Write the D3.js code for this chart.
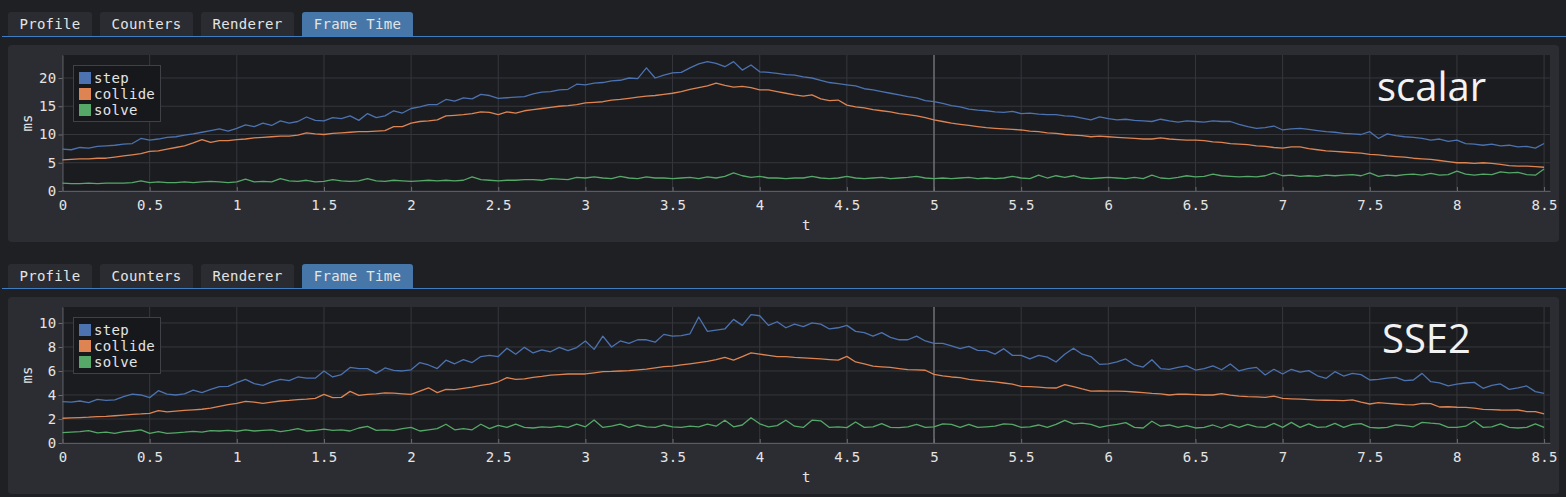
<!DOCTYPE html>
<html>
<head>
<meta charset="utf-8">
<script src="https://cdn.jsdelivr.net/npm/d3@7"></script>
<style>
  body { margin: 0; background: #1f2023; }
  svg { display: block; }
</style>
</head>
<body>
<svg id="chart" width="1566" height="497"></svg>
<script>
// ---- data ----
const tabs = ["Profile", "Counters", "Renderer", "Frame Time"];
const activeTab = "Frame Time";
const seriesNames = ["step", "collide", "solve"];
const panelLabels = ["scalar", "SSE2"];
const xTicks = [0, 0.5, 1, 1.5, 2, 2.5, 3, 3.5, 4, 4.5, 5, 5.5, 6, 6.5, 7, 7.5, 8, 8.5];
const yTicksScalar = [0, 5, 10, 15, 20];
const yTicksSSE2 = [0, 2, 4, 6, 8, 10];
const tStep = 0.05;   // sample spacing of the series below (t = 0 .. 8.5)
const tMax = 8.534;
const cursorT = 5;

const scalarStep = [
  7.4,7.3,7.7,7.6,7.9,8.0,8.1,8.3,8.4,9.3,
  9.0,9.2,9.5,9.6,9.9,10.1,10.4,10.7,11.0,10.6,
  11.1,11.7,11.4,12.0,11.6,12.4,12.0,12.3,13.1,12.5,
  12.4,13.0,12.8,13.3,12.5,13.7,13.0,13.3,14.2,13.8,
  14.6,14.9,15.3,15.3,16.2,15.9,16.5,16.3,17.1,16.9,
  16.4,16.5,16.6,16.7,17.2,17.5,17.6,17.9,18.0,18.9,
  18.8,19.1,19.2,19.5,19.6,20.0,19.9,21.8,20.0,20.5,
  20.9,21.0,21.8,22.5,22.9,22.6,22.0,22.9,21.4,22.3,
  21.1,21.0,20.8,20.6,20.5,20.2,20.0,19.6,19.2,19.0,
  18.8,18.6,18.1,17.9,17.6,17.3,17.0,16.7,16.5,16.0,
  15.8,15.5,15.1,14.9,14.5,14.3,14.2,14.0,13.9,14.1,
  13.7,13.8,13.6,13.5,13.5,13.3,13.2,12.9,12.6,13.1,
  12.8,12.6,12.7,12.5,12.4,12.3,12.7,12.4,12.2,12.4,
  12.3,12.2,12.4,12.3,12.3,11.8,11.4,11.1,11.2,11.5,
  10.8,11.0,11.1,10.9,10.7,10.5,10.4,10.2,10.1,10.0,
  10.5,9.3,10.1,9.8,9.6,9.5,9.3,9.0,9.2,8.8,
  9.0,8.4,8.3,8.1,8.3,8.0,8.1,7.8,7.9,7.6,
  8.4
];
const scalarCollide = [
  5.5,5.6,5.7,5.7,5.8,5.8,6.0,6.2,6.4,6.6,
  7.0,7.1,7.4,7.7,8.0,8.5,9.1,8.6,8.9,8.9,
  9.1,9.2,9.4,9.5,9.6,9.7,9.7,9.9,10.3,10.1,
  10.0,10.2,10.3,10.4,10.5,10.5,10.6,10.7,11.4,11.4,
  12.0,12.3,12.4,12.6,13.3,13.4,13.5,13.7,14.0,13.9,
  13.5,14.0,13.8,14.2,14.4,14.6,14.8,15.0,15.1,15.3,
  15.6,15.7,15.8,16.1,16.2,16.4,16.6,16.8,16.9,17.1,
  17.3,17.6,18.0,18.3,18.6,19.1,18.7,18.4,18.5,18.3,
  17.9,17.9,17.6,17.3,17.0,16.8,17.0,16.3,16.0,16.1,
  15.2,14.9,14.7,14.4,14.2,14.0,13.7,13.5,13.3,13.0,
  12.6,12.3,12.0,11.8,11.6,11.4,11.2,11.1,11.0,10.9,
  10.8,10.6,10.5,10.3,10.2,10.0,9.9,9.8,9.6,9.7,
  9.6,9.5,9.4,9.3,9.2,9.2,9.4,9.2,9.1,9.0,
  9.0,8.9,8.7,8.6,8.4,8.3,8.2,8.0,7.9,7.7,
  7.6,7.8,7.8,7.5,7.3,7.1,7.0,6.9,6.8,6.7,
  6.5,6.4,6.2,6.1,6.0,5.8,5.7,5.6,5.4,5.2,
  5.0,5.0,4.9,5.0,4.9,4.7,4.5,4.4,4.4,4.3,
  4.2
];
const scalarSolve = [
  1.4,1.3,1.3,1.4,1.3,1.4,1.4,1.4,1.5,1.8,
  1.5,1.6,1.5,1.5,1.6,1.5,1.6,1.7,1.6,1.5,
  1.6,2.1,1.6,1.7,1.6,2.2,1.8,1.7,1.9,1.6,
  1.7,2.0,1.8,1.7,1.8,2.2,1.8,1.7,1.9,1.8,
  1.7,1.8,1.9,1.8,1.9,1.8,1.9,2.5,2.0,1.9,
  1.8,1.9,1.9,2.0,2.0,1.9,2.2,2.1,2.0,2.4,
  2.3,2.5,2.3,2.2,2.6,2.3,2.2,2.5,2.3,2.3,
  2.2,2.3,2.4,2.2,2.5,2.3,2.6,3.2,2.7,2.4,
  2.6,2.3,2.3,2.2,2.3,2.3,2.6,2.3,2.2,2.3,
  2.6,2.3,2.2,2.3,2.4,2.2,2.3,2.4,2.6,2.3,
  2.2,2.3,2.2,2.3,2.4,2.2,2.3,2.2,2.3,2.6,
  2.3,2.2,2.8,2.3,2.7,2.4,2.7,2.3,2.2,2.3,
  2.4,2.3,2.2,2.4,2.2,2.8,2.3,2.2,2.4,2.7,
  2.5,2.6,3.0,2.7,2.6,2.5,2.6,2.5,2.7,3.2,
  2.7,2.8,2.6,2.7,2.6,2.8,2.7,2.8,2.9,2.7,
  3.2,2.6,2.8,2.7,2.9,3.0,2.8,3.1,2.8,2.9,
  3.5,3.0,2.8,3.0,2.9,3.4,3.2,3.3,2.9,2.8,
  3.9
];

const sse2Step = [
  3.44,3.4,3.5,3.36,3.64,3.55,3.6,3.86,4.08,4.0,
  3.78,4.36,4.08,4.0,4.1,4.4,4.2,4.47,4.7,4.72,
  5.03,5.3,4.95,4.8,5.1,5.3,5.2,5.5,5.4,5.4,
  6.0,5.5,5.7,6.3,6.2,6.2,5.8,6.25,6.05,6.0,
  6.1,6.7,6.5,6.2,6.9,6.6,6.95,6.7,7.2,7.3,
  7.2,7.9,7.4,7.97,7.5,7.75,7.6,7.97,7.7,7.95,
  8.5,7.8,8.9,8.0,8.5,8.3,8.6,8.6,8.4,9.05,
  8.9,8.95,9.1,10.5,9.3,9.4,9.5,10.3,9.8,10.7,
  10.6,9.8,10.1,9.6,9.9,9.7,10.0,9.9,9.5,9.6,
  9.8,9.3,9.2,8.9,9.2,8.8,8.6,8.6,8.9,8.5,
  8.3,8.3,8.1,7.86,8.05,7.72,7.7,7.4,7.86,7.3,
  7.3,7.0,7.3,7.15,6.75,7.4,7.9,7.4,7.2,6.55,
  6.6,6.75,7.0,6.5,6.33,6.94,6.2,6.14,6.3,6.42,
  6.08,6.2,6.42,6.1,6.58,6.0,6.2,6.3,5.67,6.14,
  5.75,6.14,5.9,6.03,5.6,5.39,5.94,5.58,5.8,5.7,
  5.25,5.3,5.4,5.47,5.19,5.25,5.8,5.11,5.0,4.75,
  4.9,5.0,5.05,4.56,4.8,4.92,4.47,4.6,4.75,4.28,
  4.14
];
const sse2Collide = [
  2.06,2.1,2.12,2.15,2.2,2.22,2.27,2.33,2.39,2.42,
  2.47,2.69,2.6,2.66,2.72,2.76,2.81,2.9,3.06,3.2,
  3.3,3.47,3.4,3.3,3.4,3.5,3.55,3.62,3.66,3.72,
  4.05,3.78,3.8,4.3,3.97,4.05,4.1,4.17,4.15,4.1,
  4.05,4.33,4.6,4.2,4.47,4.44,4.55,4.65,4.8,4.9,
  5.1,5.44,5.3,5.35,5.47,5.55,5.65,5.7,5.75,5.76,
  5.75,5.85,5.94,5.96,6.0,6.03,6.1,6.15,6.25,6.36,
  6.4,6.5,6.6,6.7,6.8,6.95,7.14,6.9,7.2,7.5,
  7.4,7.3,7.2,7.2,7.14,7.1,7.05,7.0,6.95,6.9,
  7.22,6.75,6.6,6.4,6.35,6.3,6.2,6.11,6.1,6.06,
  5.72,5.6,5.5,5.44,5.3,5.22,5.15,5.1,5.0,4.9,
  4.72,4.7,4.65,4.6,4.58,4.86,4.7,4.5,4.33,4.35,
  4.32,4.33,4.3,4.25,4.2,4.14,4.1,4.0,4.08,4.06,
  4.03,4.0,4.0,4.12,3.98,3.9,3.86,3.84,3.8,3.9,
  3.72,3.68,3.65,3.62,3.58,3.56,3.55,3.53,3.6,3.4,
  3.25,3.36,3.3,3.25,3.2,3.17,3.3,3.28,3.0,3.02,
  2.98,2.97,2.9,2.8,2.78,2.75,2.74,2.75,2.62,2.61,
  2.42
];
const sse2Solve = [
  0.86,0.9,0.94,1.03,0.85,0.9,0.8,0.95,1.0,1.1,
  0.8,0.95,0.8,0.85,0.9,0.97,0.9,1.03,1.0,1.05,
  0.98,1.1,1.0,1.05,1.1,0.95,1.05,1.2,1.0,1.05,
  1.15,1.05,1.1,1.0,1.25,1.39,1.05,1.1,1.05,1.2,
  1.3,1.0,1.1,1.2,1.56,1.1,1.2,1.1,1.56,1.2,
  1.47,1.3,1.58,1.3,1.25,1.35,1.3,1.4,1.3,1.58,
  1.35,1.92,1.3,1.4,1.58,1.3,1.5,1.35,1.3,1.5,
  1.35,1.3,1.4,1.35,1.58,1.4,1.9,1.35,1.5,2.1,
  1.6,1.35,1.45,1.9,1.4,1.3,1.9,1.85,1.3,1.35,
  1.28,1.75,1.3,1.35,1.61,1.3,1.28,1.35,1.55,1.3,
  1.35,1.6,1.55,1.3,1.55,1.3,1.35,1.4,1.6,1.55,
  1.3,1.35,1.5,1.3,1.55,1.89,1.6,1.65,1.55,1.3,
  1.45,1.55,1.7,1.3,1.25,1.81,1.4,1.5,1.3,1.45,
  1.25,1.3,1.5,1.25,1.55,1.3,1.55,1.35,1.3,1.64,
  1.3,1.72,1.3,1.6,1.3,1.35,1.64,1.3,1.55,1.62,
  1.3,1.25,1.3,1.5,1.45,1.35,1.72,1.65,1.6,1.3,
  1.3,1.4,1.83,1.3,1.35,1.6,1.3,1.25,1.3,1.6,
  1.3
];

// ---- layout ----
const W = 1566;
const colors = ["#4c72b0", "#dd8452", "#55a868"];
const mono = "'DejaVu Sans Mono', monospace";
const tabWidths = [84, 93, 93, 111];

const panels = [
  { top: 0,   yMax: 24.07, yTicks: yTicksScalar, series: [scalarStep, scalarCollide, scalarSolve], label: panelLabels[0], labelX: 1377 },
  { top: 252, yMax: 11.33, yTicks: yTicksSSE2,   series: [sse2Step, sse2Collide, sse2Solve],       label: panelLabels[1], labelX: 1382 }
];

const svg = d3.select("#chart");

const plotL = 62.5, plotR = 1550, plotT = 55, plotB = 191;

const x = d3.scaleLinear().domain([0, tMax]).range([plotL, plotR]);

function topRounded(x0, y0, w, h, r) {
  return `M${x0},${y0 + h}V${y0 + r}Q${x0},${y0} ${x0 + r},${y0}H${x0 + w - r}Q${x0 + w},${y0} ${x0 + w},${y0 + r}V${y0 + h}Z`;
}

panels.forEach(p => {
  const g = svg.append("g").attr("transform", `translate(0,${p.top})`);

  // tab strip
  let tx = 8;
  tabs.forEach((name, i) => {
    const w = tabWidths[i];
    g.append("path")
      .attr("d", topRounded(tx, 12, w, 24, 3))
      .attr("fill", name === activeTab ? "#4677a8" : "#2a2c31");
    g.append("text")
      .attr("x", tx + w / 2)
      .attr("y", 29)
      .attr("text-anchor", "middle")
      .attr("font-family", mono)
      .attr("font-size", 14)
      .attr("letter-spacing", 0.3)
      .attr("fill", "#e4e4e4")
      .text(name);
    tx += w + 8;
  });
  g.append("line")
    .attr("x1", 2).attr("x2", W)
    .attr("y1", 36.5).attr("y2", 36.5)
    .attr("stroke", "#3f7cc0").attr("stroke-width", 1.2);

  // panel and plot background
  g.append("rect")
    .attr("x", 8).attr("y", 45).attr("width", 1551).attr("height", 197)
    .attr("rx", 4).attr("fill", "#2c2d32");
  g.append("rect")
    .attr("x", plotL).attr("y", plotT).attr("width", plotR - plotL).attr("height", plotB - plotT)
    .attr("fill", "#1b1c20");

  const y = d3.scaleLinear().domain([0, p.yMax]).range([plotB, plotT]);

  // grid
  g.append("g").selectAll("line").data(xTicks).join("line")
    .attr("x1", d => x(d)).attr("x2", d => x(d))
    .attr("y1", plotT).attr("y2", plotB)
    .attr("stroke", "#36373c").attr("stroke-width", 1);
  g.append("g").selectAll("line").data(p.yTicks).join("line")
    .attr("x1", plotL).attr("x2", plotR)
    .attr("y1", d => y(d)).attr("y2", d => y(d))
    .attr("stroke", "#36373c").attr("stroke-width", 1);

  // cursor line
  g.append("line")
    .attr("x1", x(cursorT)).attr("x2", x(cursorT))
    .attr("y1", plotT).attr("y2", plotB)
    .attr("stroke", "#8c8d92").attr("stroke-width", 1);

  // axes
  const xAxis = g.append("g")
    .attr("transform", `translate(0,${plotB})`)
    .call(d3.axisBottom(x).tickValues(xTicks).tickFormat(d3.format("~g"))
      .tickSizeInner(-4).tickSizeOuter(0).tickPadding(9));
  const yAxis = g.append("g")
    .attr("transform", `translate(${plotL},0)`)
    .call(d3.axisLeft(y).tickValues(p.yTicks).tickSizeInner(4).tickSizeOuter(0).tickPadding(2));
  [xAxis, yAxis].forEach(a => {
    a.select(".domain").attr("stroke", "#5b5c61");
    a.selectAll(".tick line").attr("stroke", "#6a6b70");
    a.selectAll(".tick text")
      .attr("fill", "#e4e4e4")
      .attr("font-family", mono)
      .attr("font-size", 14)
      .attr("letter-spacing", 0.3);
  });

  // axis titles
  g.append("text")
    .attr("x", (plotL + plotR) / 2).attr("y", 230)
    .attr("text-anchor", "middle")
    .attr("font-family", mono).attr("font-size", 14)
    .attr("fill", "#e4e4e4")
    .text("t");
  g.append("text")
    .attr("transform", `translate(32,${(plotT + plotB) / 2}) rotate(-90)`)
    .attr("text-anchor", "middle")
    .attr("font-family", mono).attr("font-size", 14)
    .attr("fill", "#e4e4e4")
    .text("ms");

  // series
  const line = d3.line()
    .x((d, i) => x(i * tStep))
    .y(d => y(d));
  p.series.forEach((s, k) => {
    g.append("path")
      .datum(s)
      .attr("d", line)
      .attr("fill", "none")
      .attr("stroke", colors[k])
      .attr("stroke-width", 1.3)
      .attr("stroke-linejoin", "round");
  });

  // legend
  const lg = g.append("g");
  lg.append("rect")
    .attr("x", 73.5).attr("y", 65.5).attr("width", 87).attr("height", 56)
    .attr("fill", "#17181b").attr("stroke", "#404146");
  seriesNames.forEach((name, k) => {
    lg.append("rect")
      .attr("x", 79).attr("y", 72 + k * 16).attr("width", 12).attr("height", 12)
      .attr("fill", colors[k]);
    lg.append("text")
      .attr("x", 94).attr("y", 83 + k * 16)
      .attr("font-family", mono).attr("font-size", 14)
      .attr("letter-spacing", 0.3)
      .attr("fill", "#e4e4e4")
      .text(name);
  });

  // big panel label
  g.append("text")
    .attr("x", p.labelX).attr("y", 101)
    .attr("font-family", "'Open Sans', sans-serif")
    .attr("font-size", 40)
    .attr("fill", "#f2f2f2")
    .text(p.label);
});
</script>
</body>
</html>
